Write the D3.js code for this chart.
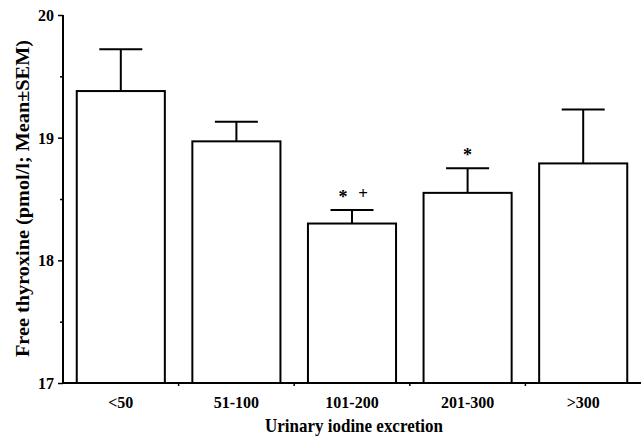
<!DOCTYPE html>
<html>
<head>
<meta charset="utf-8">
<script src="https://cdn.jsdelivr.net/npm/d3@7"></script>
<style>
  html, body { margin: 0; padding: 0; background: #fff; }
  svg { display: block; }
  text { font-family: "Liberation Serif", "Times New Roman", serif; font-weight: bold; fill: #000; }
</style>
</head>
<body>
<script>
const categories = ["<50", "51-100", "101-200", "201-300", ">300"];
const means = [19.38, 18.97, 18.30, 18.55, 18.79];
const sems = [0.34, 0.16, 0.11, 0.20, 0.44];
const marks = [[], [], ["*", "+"], ["*"], []];
const yTicks = [17, 18, 19, 20];
const yMinorTicks = [17.5, 18.5, 19.5];
const yLabel = "Free thyroxine (pmol/l; Mean\u00B1SEM)";
const xLabel = "Urinary iodine excretion";

(function () {
const W = 644, H = 439;
const mLeft = 63, mRight = 641, mTop = 15, mBottom = 383;

const svg = d3.select("body").append("svg").attr("width", W).attr("height", H);

const x = d3.scaleBand().domain(categories).range([mLeft, mRight])
  .paddingInner(0.238).paddingOuter(0.119);
const y = d3.scaleLinear().domain([17, 20]).range([mBottom, mTop]);

// bars
svg.append("g").selectAll("rect").data(categories).join("rect")
  .attr("x", d => x(d))
  .attr("y", (d, i) => y(means[i]))
  .attr("width", x.bandwidth())
  .attr("height", (d, i) => y(17) - y(means[i]))
  .attr("fill", "#fff").attr("stroke", "#000").attr("stroke-width", 2);

// error bars
const eg = svg.append("g").attr("stroke", "#000").attr("stroke-width", 2);
categories.forEach((c, i) => {
  const cx = x(c) + x.bandwidth() / 2;
  eg.append("line").attr("x1", cx).attr("x2", cx)
    .attr("y1", y(means[i])).attr("y2", y(means[i] + sems[i]));
  eg.append("line").attr("x1", cx - 21.5).attr("x2", cx + 21.5)
    .attr("y1", y(means[i] + sems[i])).attr("y2", y(means[i] + sems[i]));
});

// significance marks
categories.forEach((c, i) => {
  const cx = x(c) + x.bandwidth() / 2;
  const m = marks[i];
  const offs = m.length === 2 ? [-9, 11] : [0];
  m.forEach((s, k) => {
    svg.append("text")
      .attr("x", cx + offs[k])
      .attr("y", y(means[i] + sems[i]) - (s === "*" ? 7 : 11))
      .attr("text-anchor", "middle")
      .style("font-size", s === "*" ? "18px" : "17px")
      .text(s);
  });
});

// y axis
const yAxis = d3.axisLeft(y).tickValues(yTicks).tickFormat(d3.format("d")).tickSize(5).tickPadding(4);
const yg = svg.append("g").attr("transform", `translate(${mLeft},0)`).call(yAxis);
yg.select(".domain").attr("stroke-width", 2).attr("d", `M0,${mBottom}V${mTop}`);
yg.selectAll(".tick line").attr("stroke-width", 1.5);
yg.selectAll(".tick text").style("font-size", "16px").attr("dy", "0.34em");
const yMinor = d3.axisLeft(y).tickValues(yMinorTicks).tickFormat("").tickSize(3);
const ym = svg.append("g").attr("transform", `translate(${mLeft},0)`).call(yMinor);
ym.select(".domain").remove();
ym.selectAll(".tick line").attr("stroke-width", 1.5);

// x axis
const xAxis = d3.axisBottom(x).tickSize(0).tickPadding(14);
const xg = svg.append("g").attr("transform", `translate(0,${mBottom})`).call(xAxis);
xg.select(".domain").attr("stroke-width", 2).attr("d", `M${mLeft},0H${mRight}`);
xg.selectAll(".tick text").style("font-size", "16px");
// small ticks between bands
const bounds = categories.slice(1).map(c => x(c) - x.step() * x.paddingInner() / 2);
svg.append("g").selectAll("line").data(bounds).join("line")
  .attr("x1", d => d).attr("x2", d => d)
  .attr("y1", mBottom).attr("y2", mBottom + 3)
  .attr("stroke", "#000").attr("stroke-width", 1.5);

// axis titles
svg.append("text").attr("x", 354).attr("y", 432).attr("text-anchor", "middle")
  .style("font-size", "19px").attr("textLength", 178).attr("lengthAdjust", "spacingAndGlyphs")
  .text(xLabel);
svg.append("text").attr("transform", `translate(29,${(40 + 357) / 2}) rotate(-90)`)
  .attr("text-anchor", "middle").style("font-size", "19px")
  .attr("textLength", 317).attr("lengthAdjust", "spacingAndGlyphs")
  .text(yLabel);
})();
</script>
</body>
</html>
